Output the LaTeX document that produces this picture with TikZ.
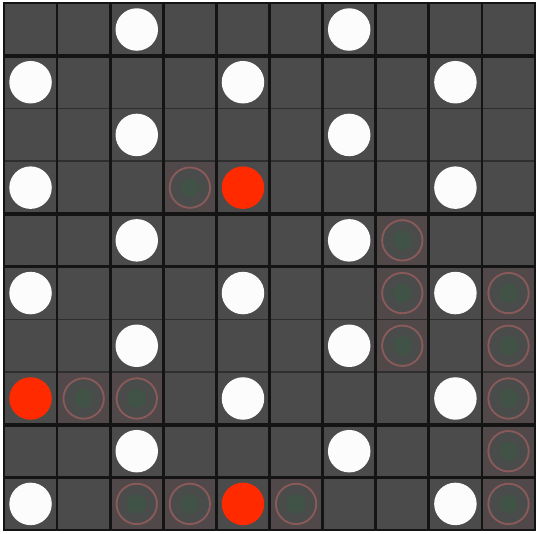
\documentclass[tikz,border=0pt]{standalone}
\usepackage{tikz}
\usetikzlibrary{positioning}
\definecolor{Cell}{HTML}{4B4B4B}
\definecolor{Rule}{HTML}{141414}
\definecolor{RuleLight}{HTML}{2E2E2E}
\definecolor{Stone}{HTML}{FCFCFC}
\definecolor{Hit}{HTML}{FF2A00}
\definecolor{Trail}{HTML}{8A5A5B}
\definecolor{TrailCell}{HTML}{514849}
\definecolor{TrailCore}{HTML}{415246}

\begin{document}
\begin{tikzpicture}[x=1cm,y=0.9925cm,
  stone/.style={circle,minimum size=0.80cm,inner sep=0pt,fill=Stone},
  hit/.style={circle,minimum size=0.80cm,inner sep=0pt,fill=Hit},
  trail/.style={circle,minimum size=0.76cm,inner sep=0pt,fill=Cell!80!TrailCore,draw=Trail,line width=1.0pt},
  core/.style={circle,minimum size=0.36cm,inner sep=0pt,fill=TrailCore}]
\useasboundingbox (-0.075,-0.06) rectangle (10.055,10.06);
\fill[white] (-0.075,-0.06) rectangle (10.055,10.06);
\fill[Cell] (0,0) rectangle (10,10);
% cells crossed by the trail
\foreach \c/\r in {3/3,7/4,7/5,9/5,7/6,9/6,1/7,2/7,9/7,9/8,2/9,3/9,5/9,9/9}
  \fill[TrailCell] (\c,9-\r) rectangle (\c+1,10-\r);
% grid
\foreach \y in {8,7,4,3}
  \draw[RuleLight,line width=0.9pt] (0,\y) -- (10,\y);
\foreach \y in {9,6,5,2,1}
  \draw[Rule,line width=1.8pt] (0,\y) -- (10,\y);
\foreach \x in {1,...,9}
  \draw[Rule,line width=1.5pt] (\x,0) -- (\x,10);
\draw[Rule,line width=1.3pt] (0,0) rectangle (10,10);
% stones
\foreach \c/\r in {2/0,6/0,0/1,4/1,8/1,2/2,6/2,0/3,8/3,2/4,6/4,0/5,4/5,8/5,2/6,6/6,4/7,8/7,2/8,6/8,0/9,8/9}
  \node[stone] (s\c\r) at (\c+0.5,9.5-\r) {};
\foreach \c/\r in {3/3,7/4,7/5,9/5,7/6,9/6,1/7,2/7,9/7,9/8,2/9,3/9,5/9,9/9}{
  \node[trail] (t\c\r) at (\c+0.5,9.5-\r) {};
  \node[core] at (t\c\r) {};
}
\node[hit] (h43) at (4.5,6.5) {};
\node[hit] (h07) at (0.5,2.5) {};
\node[hit] (h49) at (4.5,0.5) {};
\end{tikzpicture}
\end{document}
